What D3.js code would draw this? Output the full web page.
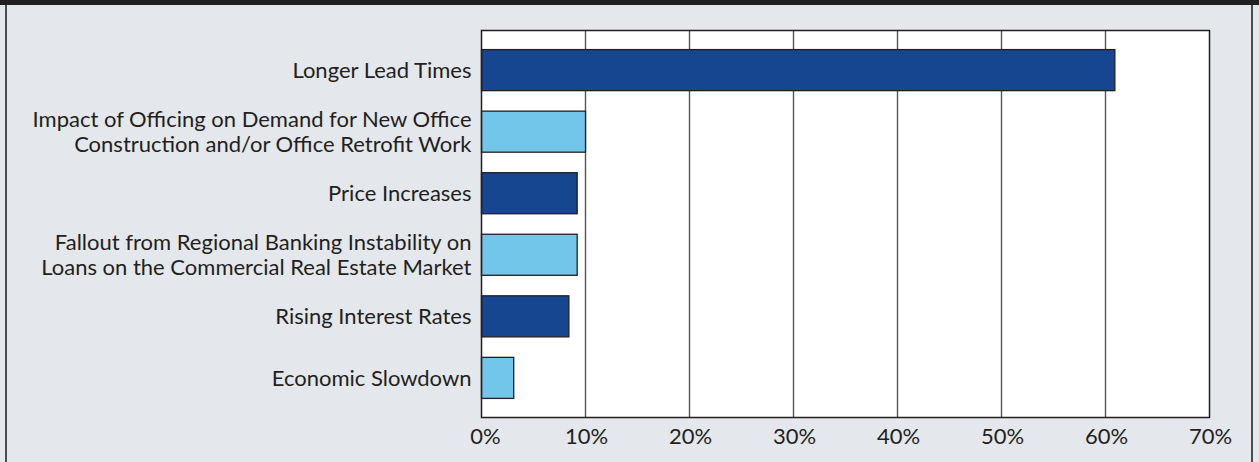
<!DOCTYPE html>
<html>
<head>
<meta charset="utf-8">
<script src="https://cdn.jsdelivr.net/npm/d3@7"></script>
<style>
  html, body { margin: 0; padding: 0; background: #e4e7ec; }
  svg { display: block; }
</style>
</head>
<body>
<svg id="chart" width="1259" height="462"></svg>
<script>
// chart data
var categories = [
    ["Longer Lead Times"],
    ["Impact of Officing on Demand for New Office", "Construction and/or Office Retrofit Work"],
    ["Price Increases"],
    ["Fallout from Regional Banking Instability on", "Loans on the Commercial Real Estate Market"],
    ["Rising Interest Rates"],
    ["Economic Slowdown"]
];
var values = [60.9, 10.0, 9.2, 9.2, 8.4, 3.1];
var barColors = ["#15468f", "#72c6ea", "#15468f", "#72c6ea", "#15468f", "#72c6ea"];
var tickValues = [0, 10, 20, 30, 40, 50, 60, 70];

var svg = d3.select("#chart");
var W = 1259, H = 462;
var plot = { left: 481.5, right: 1209.5, top: 30.5, bottom: 417.5 };

// frame: black band on top, thin borders on both sides
svg.append("rect").attr("x", 0).attr("y", 0).attr("width", W).attr("height", H).attr("fill", "#e4e7ec");
svg.append("rect").attr("x", 0).attr("y", 0).attr("width", W).attr("height", 5).attr("fill", "#231f20");
svg.append("rect").attr("x", 5).attr("y", 5).attr("width", 2).attr("height", H - 5).attr("fill", "#4d4d4f");
svg.append("rect").attr("x", 1251).attr("y", 5).attr("width", 2).attr("height", H - 5).attr("fill", "#4d4d4f");

var xScale = d3.scaleLinear().domain([0, 70]).range([plot.left, plot.right]);
var yScale = d3.scaleBand()
    .domain(d3.range(categories.length))
    .range([plot.top, plot.bottom])
    .paddingInner(0.333)
    .paddingOuter(0.31);

// white plot area
svg.append("rect")
    .attr("x", plot.left).attr("y", plot.top)
    .attr("width", plot.right - plot.left).attr("height", plot.bottom - plot.top)
    .attr("fill", "#ffffff");

// vertical gridlines
svg.append("g").selectAll("line")
    .data(tickValues.slice(1, -1))
    .enter().append("line")
    .attr("x1", function(d) { return xScale(d); })
    .attr("x2", function(d) { return xScale(d); })
    .attr("y1", plot.top).attr("y2", plot.bottom)
    .attr("stroke", "#555659")
    .attr("stroke-width", 1.4);

// bars
svg.append("g").selectAll("rect")
    .data(values)
    .enter().append("rect")
    .attr("x", xScale(0))
    .attr("y", function(d, i) { return yScale(i); })
    .attr("width", function(d) { return xScale(d) - xScale(0); })
    .attr("height", yScale.bandwidth())
    .attr("fill", function(d, i) { return barColors[i]; })
    .attr("stroke", "#231f20")
    .attr("stroke-width", 1.3);

// plot border
svg.append("rect")
    .attr("x", plot.left).attr("y", plot.top)
    .attr("width", plot.right - plot.left).attr("height", plot.bottom - plot.top)
    .attr("fill", "none")
    .attr("stroke", "#231f20")
    .attr("stroke-width", 1.5);

// category labels (one or two lines)
var labels = svg.append("g")
    .attr("font-family", "Lato, 'Source Sans Pro', sans-serif")
    .attr("font-size", "22px")
    .attr("fill", "#231f20")
    .attr("text-anchor", "end");

categories.forEach(function(lines, i) {
    var cy = yScale(i) + yScale.bandwidth() / 2;
    var lh = 25;
    var t = labels.append("text")
        .attr("y", cy - (lines.length - 1) * lh / 2);
    lines.forEach(function(s, j) {
        t.append("tspan")
            .attr("x", plot.left - 10)
            .attr("dy", j == 0 ? "0.35em" : lh)
            .text(s);
    });
});

// x axis tick labels
svg.append("g")
    .attr("font-family", "Lato, 'Source Sans Pro', sans-serif")
    .attr("font-size", "22px")
    .attr("fill", "#231f20")
    .attr("text-anchor", "middle")
    .selectAll("text")
    .data(tickValues)
    .enter().append("text")
    .attr("x", function(d) { return xScale(d) + (d == 0 ? 4 : 1); })
    .attr("y", 444)
    .text(function(d) { return d + "%"; });
</script>
</body>
</html>
